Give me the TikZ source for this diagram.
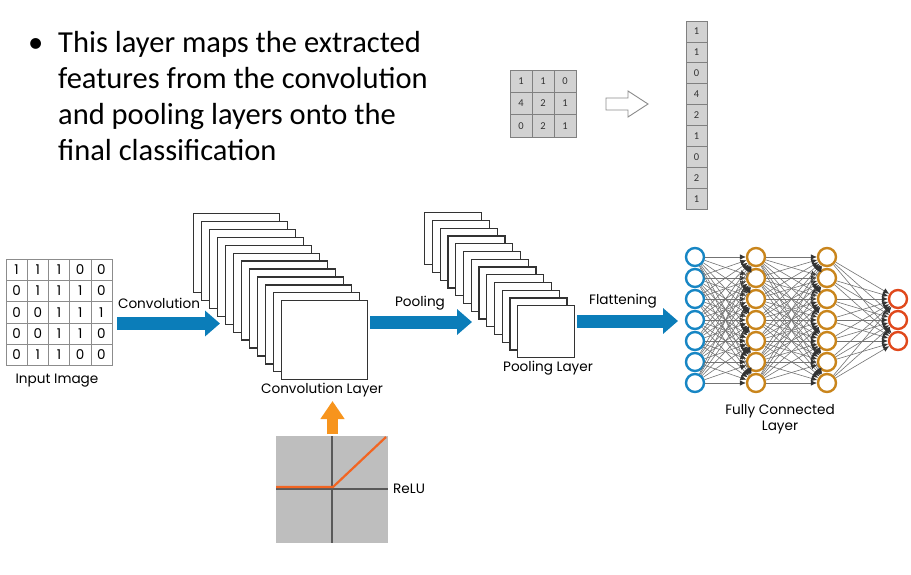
\documentclass[tikz,border=0pt]{standalone}
\usepackage{fontspec}
\setmainfont{Carlito}
\newfontfamily\lbl{Poppins}
\usetikzlibrary{arrows.meta}
\definecolor{flowblue}{HTML}{0B7DB9}
\definecolor{inblue}{HTML}{1786C4}
\definecolor{hidorange}{HTML}{C9851C}
\definecolor{outred}{HTML}{E0481B}
\definecolor{relugray}{HTML}{BEBEBE}
\definecolor{reluline}{HTML}{F26522}
\definecolor{upor}{HTML}{F7941D}
\definecolor{cellgray}{HTML}{D2D2D2}
\definecolor{cellline}{HTML}{808080}
\begin{document}
\begin{tikzpicture}[x=1pt,y=-1pt,
  bodytext/.style={font=\fontsize{30.5}{36}\selectfont, inner sep=0pt, anchor=base west},
  lab/.style={font=\lbl\fontsize{13.6}{16}\selectfont, inner sep=0pt},
  incell/.style={draw=black!45, line width=0.6pt, minimum width=21.2pt, minimum height=21.3pt, inner sep=0pt, font=\lbl\fontsize{13.5}{15}\selectfont},
  fmap/.style={draw=black!80, line width=1.4pt, fill=white, anchor=north west, inner sep=0pt},
  flow/.style={draw=flowblue, line width=13pt, -{Triangle[length=15pt,width=25pt]}},
  mcell/.style={draw=cellline, fill=cellgray, line width=0.8pt, minimum width=22pt, minimum height=22.3pt, inner sep=0pt, font=\fontsize{10.5}{12}\selectfont, text=black!80},
  vcell/.style={draw=cellline, fill=cellgray, line width=0.8pt, minimum width=21pt, minimum height=20.9pt, inner sep=0pt, font=\fontsize{10.5}{12}\selectfont, text=black!80},
  neuron/.style={circle, line width=2.4pt, minimum size=18pt, inner sep=0pt, fill=white},
  edge/.style={draw=black!55, line width=0.6pt, -{Latex[length=6pt,width=5.5pt,color=black!80]}}
]
\useasboundingbox (0,0) rectangle (911,574);
\fill[white] (0,0) rectangle (911,574);

% bullet text
\node[bodytext] (bul) at (28,52) {•};
\node[bodytext] (l1) at (58,52) {This layer maps the extracted};
\node[bodytext] (l2) at (58,88) {features from the convolution};
\node[bodytext] (l3) at (58,124) {and pooling layers onto the};
\node[bodytext] (l4) at (58,160) {final classification};

% input image
\foreach \row [count=\r from 0] in {{1,1,1,0,0},{0,1,1,1,0},{0,0,1,1,1},{0,0,1,1,0},{0,1,1,0,0}} {
  \foreach \v [count=\c from 0] in \row {
    \node[incell] (in-\r-\c) at (6+21.2*\c+10.6, 259+21.3*\r+10.65) {\v};
  }
}
\node[lab] (inlab) at (57,381) {Input Image};

% convolution arrow
\coordinate (ca1) at (117,323.5);
\coordinate (ca2) at (220,323.5);
\draw[flow] (ca1) -- (ca2);
\node[lab] (convlab) at (159,303) {Convolution};

% convolution stack
\foreach \i in {0,...,11} {
  \node[fmap, minimum width=86pt, minimum height=79pt] (cv\i) at (193+8*\i, 213+7.9*\i) {};
}
\node[lab] (cvlab) at (322,390) {Convolution Layer};

% pooling arrow
\coordinate (pa1) at (370,322);
\coordinate (pa2) at (472,322);
\draw[flow] (pa1) -- (pa2);
\node[lab] (poollab) at (420,303) {Pooling};

% pooling stack
\foreach \i in {0,...,12} {
  \node[fmap, minimum width=57pt, minimum height=52pt] (pl\i) at (424+7.75*\i, 212+7.75*\i) {};
}
\node[lab] (pllab) at (548,368) {Pooling Layer};

% flattening arrow
\coordinate (fa1) at (577,321);
\coordinate (fa2) at (678,321);
\draw[flow] (fa1) -- (fa2);
\node[lab] (flatlab) at (623,301) {Flattening};

% ReLU
\fill[relugray] (276,436) rectangle (388,543);
\draw[black!65, line width=1.5pt] (332,436) -- (332,543);
\draw[black!65, line width=1.5pt] (276,489) -- (388,489);
\draw[reluline, line width=2.2pt] (276,487) -- (333,487) -- (386,437);
\node[lab, anchor=west] (relulab) at (393,489) {ReLU};
\coordinate (ob) at (332.5,434);
\coordinate (ot) at (332.5,401);
\draw[draw=upor, line width=11pt, -{Triangle[length=18pt,width=23pt]}] (ob) -- (ot);

% 3x3 matrix
\foreach \row [count=\r from 0] in {{1,1,0},{4,2,1},{0,2,1}} {
  \foreach \v [count=\c from 0] in \row {
    \node[mcell] (m-\r-\c) at (510+22*\c+11, 70+22.3*\r+11.15) {\v};
  }
}
% hollow arrow
\draw[draw=black!45, line width=0.9pt, fill=white] (606,98) -- (628,98) -- (628,91) -- (648,104) -- (628,117) -- (628,110) -- (606,110) -- cycle;

% flattened column
\foreach \v [count=\r from 0] in {1,1,0,4,2,1,0,2,1} {
  \node[vcell] (v\r) at (696.5, 21+20.9*\r+10.45) {\v};
}

% fully connected network
\foreach \i in {0,...,6} {
  \node[neuron, draw=inblue] (a\i) at (695, 257+21*\i) {};
  \node[neuron, draw=hidorange] (b\i) at (756, 257+21*\i) {};
  \node[neuron, draw=hidorange] (c\i) at (827, 257+21*\i) {};
}
\foreach \j in {0,1,2} {
  \node[neuron, draw=outred] (d\j) at (898, 299+21*\j) {};
}
\foreach \i in {0,...,6} {
  \foreach \j in {0,...,6} {
    \draw[edge] (a\i) -- (b\j);
    \draw[edge] (b\i) -- (c\j);
  }
  \foreach \j in {0,1,2} {
    \draw[edge] (c\i) -- (d\j);
  }
}
\node[lab] (fclab1) at (780,411) {Fully Connected};
\node[lab] (fclab2) at (780,428) {Layer};
\end{tikzpicture}
\end{document}
